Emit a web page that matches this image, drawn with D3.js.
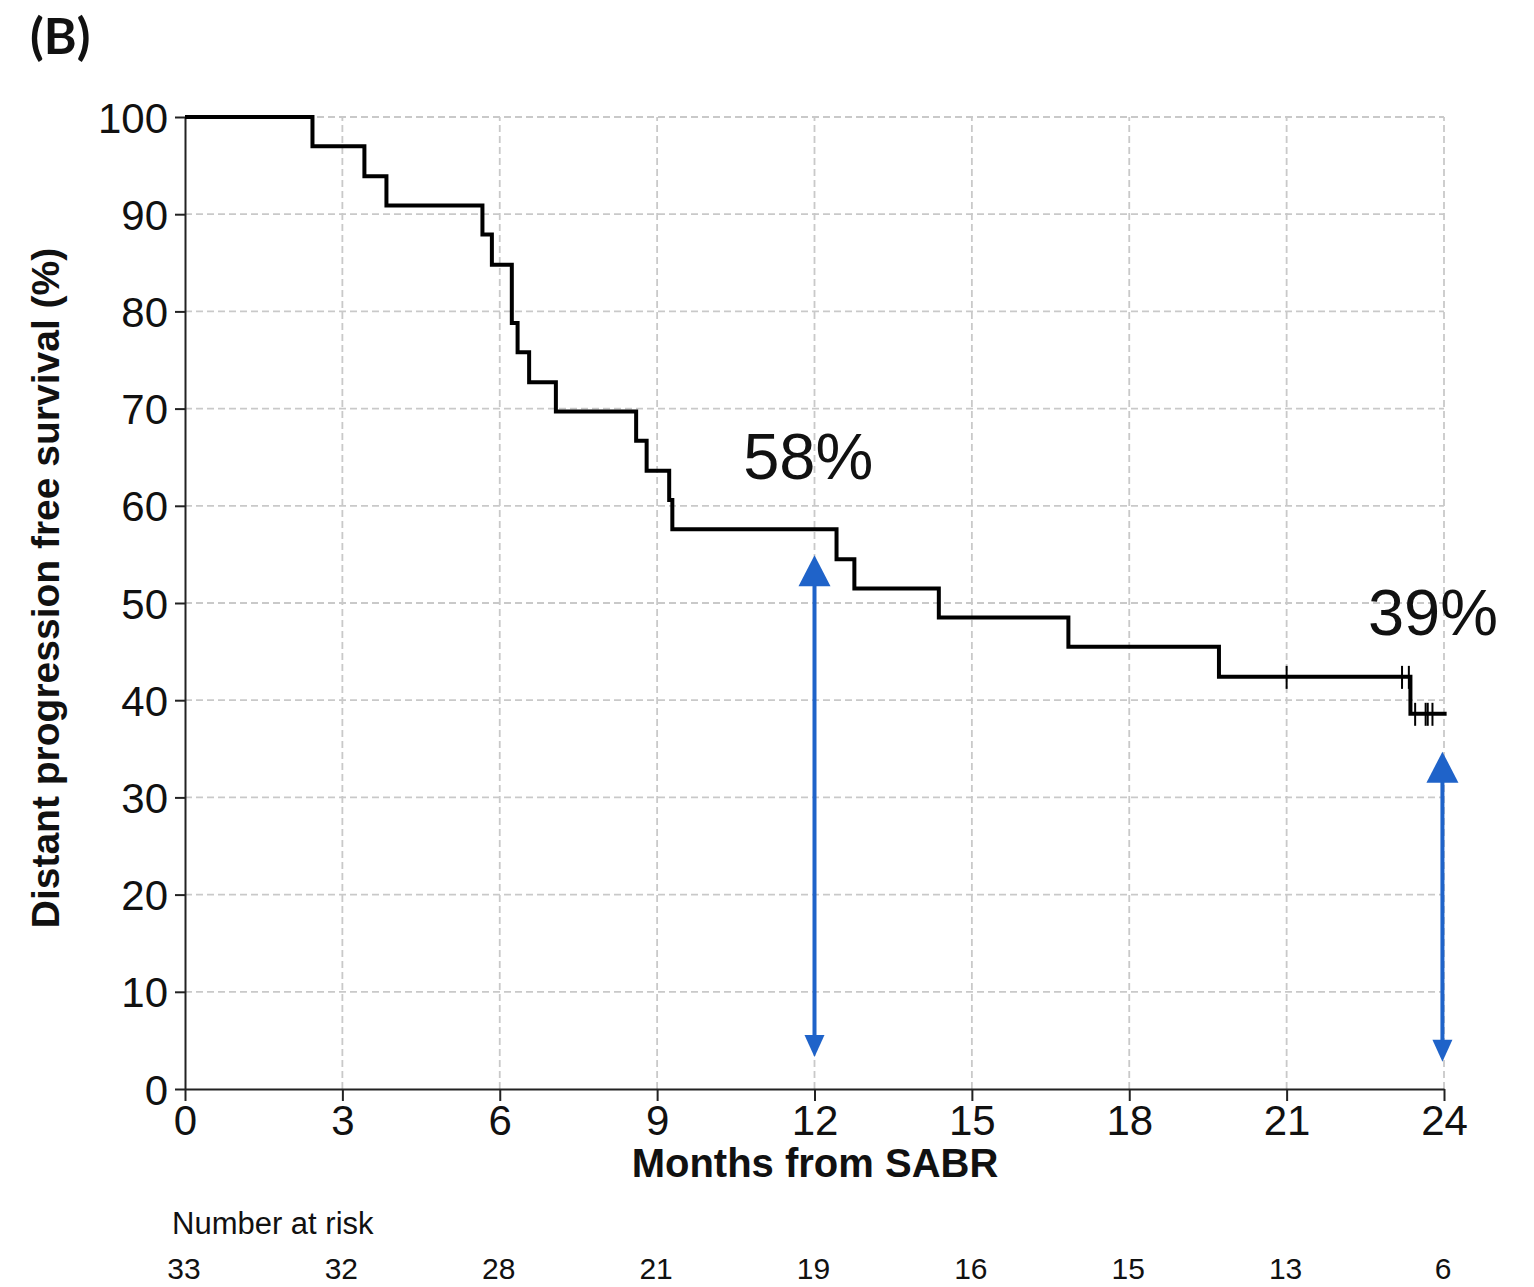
<!DOCTYPE html>
<html>
<head>
<meta charset="utf-8">
<script src="https://cdn.jsdelivr.net/npm/d3@7"></script>
<style>
  html, body { margin: 0; padding: 0; background: #fff; }
  svg { display: block; }
  text { font-family: "Liberation Sans", Arial, sans-serif; fill: #111; }
</style>
</head>
<body>
<svg id="chart" width="1534" height="1287"></svg>
<script>
// Kaplan–Meier estimate: event times (months) and survival (%) after each step
const stepTimes = [0, 2.43, 3.42, 3.84, 5.67, 5.85, 6.23, 6.34, 6.56, 7.07, 8.60, 8.80, 9.23, 9.29, 12.42, 12.76, 14.37, 16.84, 19.71, 23.36, 24.05];
const stepSurv  = [100, 97.0, 93.9, 90.9, 87.9, 84.8, 78.8, 75.8, 72.7, 69.7, 66.7, 63.6, 60.6, 57.6, 54.5, 51.5, 48.5, 45.5, 42.4, 38.6, 38.6];

// Censored observations (months) and the survival level they sit on
const censorTimes = [21.0, 23.2, 23.33, 23.45, 23.65, 23.69, 23.78];
const censorSurv  = [42.4, 42.4, 42.4, 38.6, 38.6, 38.6, 38.6];

// Axis ticks
const xTicks = [0, 3, 6, 9, 12, 15, 18, 21, 24];
const yTicks = [0, 10, 20, 30, 40, 50, 60, 70, 80, 90, 100];

// Number at risk under each x tick
const atRisk = [33, 32, 28, 21, 19, 16, 15, 13, 6];

// Highlighted landmarks: time, arrow span (bottom, top) in %, label
const markTimes  = [12, 23.97];
const markBottom = [3.3, 2.8];
const markTop    = [54.9, 34.7];
const markLabels = ["58%", "39%"];

const svg = d3.select("#chart");
const x = d3.scaleLinear().domain([0, 24]).range([185, 1444]);
const y = d3.scaleLinear().domain([0, 100]).range([1089, 117]);

// Dashed grid
const grid = svg.append("g").attr("stroke", "#c9c9c9").attr("stroke-width", 1.8)
  .attr("stroke-dasharray", "7,4").attr("fill", "none");
grid.selectAll("line.gy").data(yTicks.filter(d => d > 0)).join("line")
  .attr("x1", x(0)).attr("x2", x(24)).attr("y1", d => y(d)).attr("y2", d => y(d));
grid.selectAll("line.gx").data(xTicks.filter(d => d > 0)).join("line")
  .attr("x1", d => x(d)).attr("x2", d => x(d)).attr("y1", y(0)).attr("y2", y(100));

// Axes
const yAxis = svg.append("g").attr("transform", `translate(${x(0)},0)`)
  .call(d3.axisLeft(y).tickValues(yTicks).tickSize(10).tickSizeOuter(0).tickPadding(7));
const xAxis = svg.append("g").attr("transform", `translate(0,${y(0)})`)
  .call(d3.axisBottom(x).tickValues(xTicks).tickSize(12).tickSizeOuter(0).tickPadding(4));
[yAxis, xAxis].forEach(g => {
  g.select(".domain").attr("stroke", "#222").attr("stroke-width", 2);
  g.selectAll(".tick line").attr("stroke", "#222").attr("stroke-width", 2);
  g.selectAll(".tick text").style("font-family", "'Liberation Sans', Arial, sans-serif")
    .style("font-size", "42px").attr("fill", "#111");
});
yAxis.selectAll(".tick text").attr("dy", "0.36em");

// Survival step curve
const pts = stepTimes.map((t, i) => [t, stepSurv[i]]);
svg.append("path").datum(pts)
  .attr("fill", "none").attr("stroke", "#000").attr("stroke-width", 4)
  .attr("stroke-linejoin", "miter")
  .attr("d", d3.line().x(d => x(d[0])).y(d => y(d[1])).curve(d3.curveStepAfter));

// Censor marks
svg.append("g").selectAll("line").data(censorTimes).join("line")
  .attr("x1", d => x(d)).attr("x2", d => x(d))
  .attr("y1", (d, i) => y(censorSurv[i]) - 11).attr("y2", (d, i) => y(censorSurv[i]) + 12)
  .attr("stroke", "#000").attr("stroke-width", 2);

// Double-headed landmark arrows
const blue = "#1f63c9";
const arrows = svg.append("g");
markTimes.forEach((t, i) => {
  const cx = x(t), yt = y(markTop[i]), yb = y(markBottom[i]);
  const headTopH = 31, headTopW = 16, headBotH = 22, headBotW = 10;
  arrows.append("line").attr("x1", cx).attr("x2", cx)
    .attr("y1", yt + headTopH - 2).attr("y2", yb - headBotH + 2)
    .attr("stroke", blue).attr("stroke-width", 4);
  arrows.append("path").attr("fill", blue)
    .attr("d", `M${cx},${yt} L${cx - headTopW},${yt + headTopH} L${cx + headTopW},${yt + headTopH} Z`);
  arrows.append("path").attr("fill", blue)
    .attr("d", `M${cx},${yb} L${cx - headBotW},${yb - headBotH} L${cx + headBotW},${yb - headBotH} Z`);
});

// Landmark percentages
svg.append("text").attr("x", x(11.88)).attr("y", 479).attr("text-anchor", "middle")
  .style("font-size", "65px").attr("fill", "#000").text(markLabels[0]);
svg.append("text").attr("x", 1433).attr("y", 635).attr("text-anchor", "middle")
  .style("font-size", "65px").attr("fill", "#000").text(markLabels[1]);

// Axis titles
svg.append("text").attr("x", 815).attr("y", 1177).attr("text-anchor", "middle")
  .style("font-size", "40px").style("font-weight", "bold").text("Months from SABR");
svg.append("text").attr("transform", "translate(59,588) rotate(-90)").attr("text-anchor", "middle")
  .style("font-size", "39px").style("font-weight", "bold").text("Distant progression free survival (%)");

// Panel letter
svg.append("text").attr("x", 30).attr("y", 54)
  .style("font-family", "Lato, 'Liberation Sans', sans-serif")
  .style("font-size", "50px").style("font-weight", "bold").text("(B)");

// Number at risk table
svg.append("text").attr("x", 172).attr("y", 1234)
  .style("font-size", "31px").text("Number at risk");
svg.append("g").selectAll("text").data(atRisk).join("text")
  .attr("x", (d, i) => x(xTicks[i]) - 1).attr("y", 1279).attr("text-anchor", "middle")
  .style("font-size", "30px").text(d => d);
</script>
</body>
</html>
